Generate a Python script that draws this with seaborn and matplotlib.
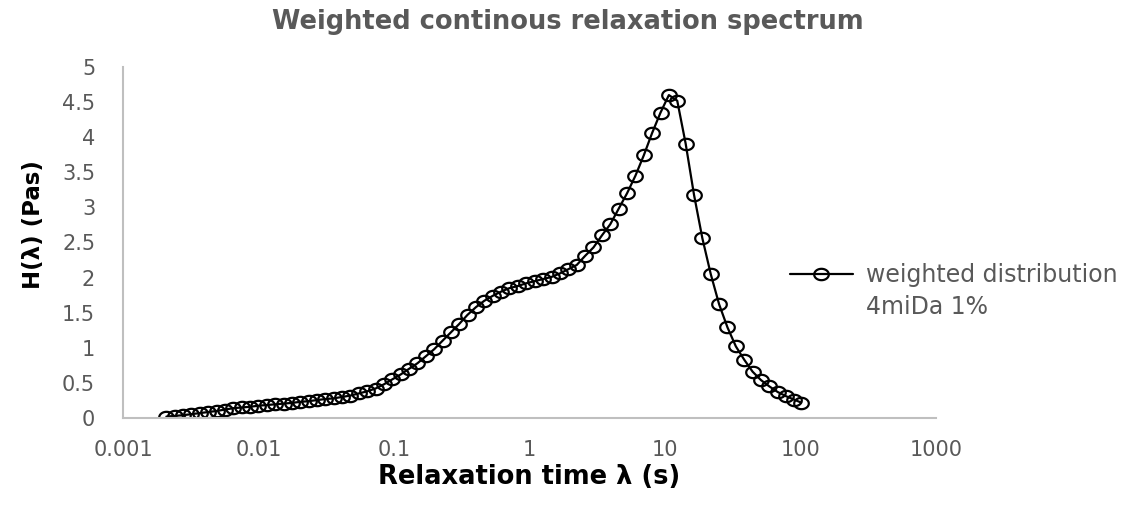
import numpy as np
import matplotlib
matplotlib.use("Agg")
import matplotlib.pyplot as plt
from matplotlib.path import Path
from matplotlib.lines import Line2D
import seaborn as sns
import pandas as pd

# ---- data ----
relaxation_time = [
    0.00209, 0.00241, 0.00278, 0.00320, 0.00369, 0.00425, 0.00490, 0.00565,
    0.00652, 0.00751, 0.00866, 0.00998, 0.0115, 0.0133, 0.0153, 0.0176,
    0.0203, 0.0234, 0.0270, 0.0311, 0.0359, 0.0414, 0.0477, 0.0550,
    0.0634, 0.0731, 0.0843, 0.0971, 0.112, 0.129, 0.149, 0.172,
    0.198, 0.228, 0.263, 0.303, 0.349, 0.403, 0.464, 0.535,
    0.617, 0.711, 0.820, 0.949, 1.096, 1.264, 1.457, 1.680,
    1.936, 2.232, 2.574, 2.967, 3.421, 3.945, 4.548, 5.244,
    6.045, 6.969, 8.035, 9.265, 10.68, 12.31, 14.20, 16.37,
    18.87, 21.76, 25.08, 28.92, 33.34, 38.44, 44.31, 51.09,
    58.90, 67.92, 78.30, 90.28, 101.0,
]
weighted_H = [
    0.02, 0.03, 0.04, 0.055, 0.07, 0.085, 0.10, 0.12,
    0.14, 0.15, 0.16, 0.175, 0.185, 0.195, 0.205, 0.215,
    0.23, 0.24, 0.255, 0.27, 0.28, 0.30, 0.32, 0.35,
    0.38, 0.42, 0.48, 0.55, 0.62, 0.70, 0.78, 0.88,
    0.98, 1.10, 1.22, 1.34, 1.47, 1.58, 1.67, 1.74,
    1.80, 1.85, 1.88, 1.92, 1.95, 1.98, 2.01, 2.06,
    2.12, 2.18, 2.31, 2.43, 2.60, 2.76, 2.98, 3.20,
    3.45, 3.74, 4.06, 4.35, 4.60, 4.52, 3.91, 3.18,
    2.56, 2.05, 1.62, 1.29, 1.02, 0.83, 0.66, 0.54,
    0.45, 0.37, 0.31, 0.26, 0.22,
]
series_label_line1 = "weighted distribution"
series_label_line2 = "4miDa 1%"
x_ticks = [0.001, 0.01, 0.1, 1, 10, 100, 1000]
x_tick_labels = ["0.001", "0.01", "0.1", "1", "10", "100", "1000"]
y_ticks = [0, 0.5, 1, 1.5, 2, 2.5, 3, 3.5, 4, 4.5, 5]
y_tick_labels = ["0", "0.5", "1", "1.5", "2", "2.5", "3", "3.5", "4", "4.5", "5"]

df = pd.DataFrame({"lam": relaxation_time, "H": weighted_H})

sns.set_theme(style="white")
plt.rcParams["font.family"] = ["DejaVu Sans"]

GREY = "#595959"
W, H = 1136, 512
fig = plt.figure(figsize=(W / 100, H / 100), dpi=100)
ax = fig.add_axes([123 / W, 1 - 418 / H, (936 - 123) / W, (418 - 67) / H])

# ellipse marker (wider than tall, as in the reference)
t = np.linspace(0, 2 * np.pi, 60)
ellipse = Path(np.column_stack([np.cos(t), 0.78 * np.sin(t)]), closed=True)
mk = dict(marker=ellipse, markersize=10.5, markerfacecolor="none",
          markeredgecolor="black", markeredgewidth=1.6)

sns.lineplot(
    data=df, x="lam", y="H", ax=ax, sort=False, estimator=None,
    color="black", linewidth=1.6, legend=False, **mk,
)

ax.set_xscale("log")
ax.set_xlim(0.001, 1000)
ax.set_ylim(0, 5)
ax.set_xticks(x_ticks)
ax.set_xticklabels(x_tick_labels)
ax.set_yticks(y_ticks)
ax.set_yticklabels(y_tick_labels)
ax.xaxis.set_minor_locator(matplotlib.ticker.NullLocator())
ax.tick_params(axis="both", length=0, labelsize=15, labelcolor=GREY)
ax.tick_params(axis="x", pad=16)
ax.tick_params(axis="y", pad=20)
ax.grid(False)

for side in ["top", "right"]:
    ax.spines[side].set_visible(False)
for side in ["left", "bottom"]:
    ax.spines[side].set_color("#bfbfbf")
    ax.spines[side].set_linewidth(1.5)

ax.set_xlabel("Relaxation time \u03bb (s)", fontsize=18.5, fontweight="bold",
              color="black", labelpad=3)
ax.set_ylabel("H(\u03bb) (Pas)", fontsize=16.5, fontweight="bold",
              color="black")
ax.yaxis.set_label_coords((45 - 123) / 813, (418 - 225) / 351)

fig.text(0.5, 1 - 22 / H, "Weighted continous relaxation spectrum",
         ha="center", va="center", fontsize=18.5, fontweight="bold",
         color=GREY)

handles = [
    Line2D([], [], color="black", linewidth=1.6, **mk),
    Line2D([], [], linestyle="none"),
]
leg = ax.legend(
    handles, [series_label_line1, series_label_line2],
    loc="upper left", bbox_to_anchor=(790 / W, 1 - 263 / H),
    bbox_transform=fig.transFigure, frameon=False, fontsize=17,
    handlelength=2.65, handletextpad=0.55, borderpad=0, borderaxespad=0,
    labelspacing=0.32,
)
for txt in leg.get_texts():
    txt.set_color(GREY)

fig.savefig("out.png", dpi=100, facecolor="white")
